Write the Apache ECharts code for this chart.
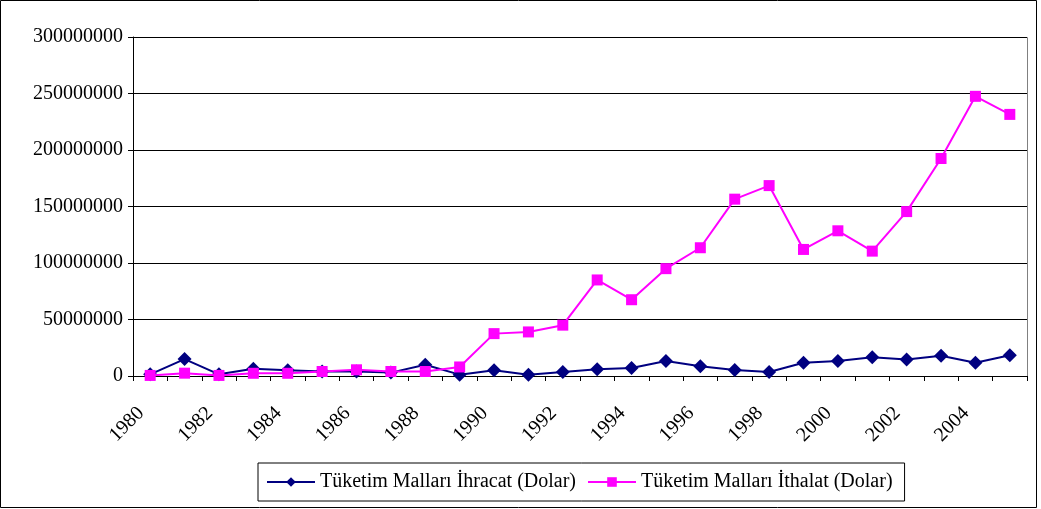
<!DOCTYPE html>
<html>
<head>
<meta charset="utf-8">
<script src="https://cdn.jsdelivr.net/npm/echarts@6/dist/echarts.min.js"></script>
<style>
  html, body { margin: 0; padding: 0; background: #fff; }
  #chart { width: 1041px; height: 509px; }
</style>
</head>
<body>
<div id="chart"></div>
<script>
// years on the category axis
var years = ['1980', '1981', '1982', '1983', '1984', '1985', '1986', '1987', '1988', '1989',
  '1990', '1991', '1992', '1993', '1994', '1995', '1996', '1997', '1998', '1999',
  '2000', '2001', '2002', '2003', '2004', '2005']

// Tüketim Malları İhracat (Dolar)
var ihracat = [1500000, 15000000, 1500000, 6500000, 5000000, 4000000, 4000000, 3000000, 10000000, 1200000,
  5000000, 1200000, 3500000, 6000000, 7000000, 13300000, 8600000, 5300000, 3500000, 11800000,
  13300000, 16500000, 14700000, 18000000, 11800000, 18300000]

// Tüketim Malları İthalat (Dolar)
var ithalat = [500000, 2500000, 500000, 2400000, 2400000, 4000000, 5500000, 4000000, 4000000, 8000000,
  37500000, 39000000, 45000000, 85000000, 67500000, 95000000, 113500000, 156500000, 168500000, 112000000,
  128500000, 110500000, 145500000, 192500000, 247500000, 231500000]

var seriesNames = ['Tüketim Malları İhracat (Dolar)', 'Tüketim Malları İthalat (Dolar)']

var font = '"Liberation Serif", "Times New Roman", serif'
var chart = echarts.init(document.getElementById('chart'))

chart.setOption({
  animation: false,
  backgroundColor: '#fff',
  textStyle: { fontFamily: font, color: '#000' },
  grid: { left: 133, right: 14, top: 37, bottom: 133 },
  graphic: [
    { // outer frame
      type: 'rect',
      shape: { x: 0.5, y: 0.5, width: 1036, height: 507 },
      style: { fill: 'none', stroke: '#000', lineWidth: 1 },
      silent: true
    },
    { // plot area frame
      type: 'rect',
      shape: { x: 133.5, y: 37.5, width: 894, height: 339 },
      style: { fill: 'none', stroke: '#808080', lineWidth: 1 },
      silent: true,
      z: 0
    }
  ],
  legend: {
    bottom: 8,
    left: 258,
    data: seriesNames,
    itemWidth: 48,
    itemHeight: 12,
    itemGap: 11,
    padding: [9, 12, 9, 8],
    borderColor: '#000',
    borderWidth: 1,
    textStyle: { fontFamily: font, fontSize: 20, color: '#000' }
  },
  xAxis: {
    type: 'category',
    data: years,
    boundaryGap: true,
    axisLine: { lineStyle: { color: '#000', width: 1 } },
    axisTick: { show: true, length: 5, interval: 0, lineStyle: { color: '#000' } },
    axisLabel: {
      interval: 1,
      rotate: 45,
      margin: 25,
      padding: [0, 13, 0, 0],
      fontSize: 20,
      fontFamily: font,
      color: '#000'
    }
  },
  yAxis: {
    type: 'value',
    min: 0,
    max: 300000000,
    interval: 50000000,
    axisLine: { show: true, lineStyle: { color: '#000', width: 1 } },
    axisTick: { show: true, length: 5, lineStyle: { color: '#000' } },
    axisLabel: {
      margin: 10,
      fontSize: 20,
      fontFamily: font,
      color: '#000',
      formatter: function (v) { return String(v) }
    },
    splitLine: { show: true, lineStyle: { color: '#000', width: 1 } }
  },
  series: [
    {
      name: seriesNames[0],
      type: 'line',
      data: ihracat,
      symbol: 'diamond',
      symbolSize: 14,
      color: '#000080',
      lineStyle: { width: 2, color: '#000080' },
      itemStyle: { color: '#000080' },
      z: 3
    },
    {
      name: seriesNames[1],
      type: 'line',
      data: ithalat,
      symbol: 'rect',
      symbolSize: 11,
      color: '#ff00ff',
      lineStyle: { width: 2, color: '#ff00ff' },
      itemStyle: { color: '#ff00ff' },
      z: 4
    }
  ]
})
</script>
</body>
</html>
